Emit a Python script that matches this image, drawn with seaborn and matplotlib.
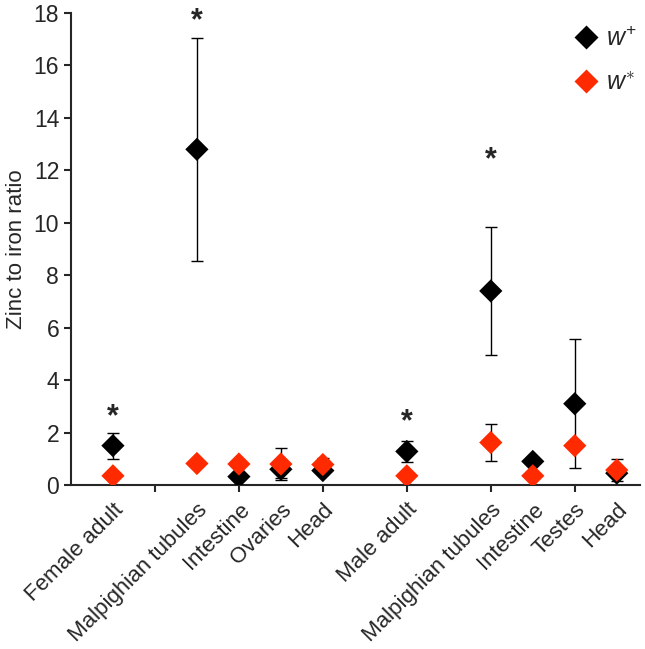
import matplotlib
matplotlib.use("Agg")
import matplotlib.pyplot as plt
import matplotlib.transforms as mtransforms
import seaborn as sns
import numpy as np
import pandas as pd

# Categories (x slots on the axis, gaps are left empty as in the original)
tissues = ["Female adult", "Malpighian tubules", "Intestine", "Ovaries", "Head",
           "Male adult", "Malpighian tubules", "Intestine", "Testes", "Head"]
slots = [1, 3, 4, 5, 6, 8, 10, 11, 12, 13]

# w+ (black)
wplus = [1.5, 12.8, 0.32, 0.6, 0.55, 1.28, 7.4, 0.9, 3.1, 0.45]
wplus_err = [0.5, 4.25, 0.0, 0.35, 0.0, 0.4, 2.45, 0.0, 2.45, 0.0]

# w* (red)
wstar = [0.35, 0.82, 0.8, 0.8, 0.78, 0.35, 1.62, 0.35, 1.5, 0.57]
wstar_err = [0.0, 0.0, 0.0, 0.6, 0.25, 0.0, 0.72, 0.0, 0.0, 0.42]

# significance stars: slot index and height
star_idx = [0, 1, 5, 6]
star_y = [2.6, 17.7, 2.4, 12.4]

sns.set_style("ticks")
plt.rcParams["font.family"] = ["Liberation Sans", "DejaVu Sans"]
plt.rcParams["mathtext.fontset"] = "custom"
plt.rcParams["mathtext.rm"] = "Liberation Sans"
plt.rcParams["mathtext.it"] = "Liberation Sans:italic"

df = pd.DataFrame({
    "slot": slots * 2,
    "ratio": wplus + wstar,
    "err": wplus_err + wstar_err,
    "genotype": [r"$w^{+}$"] * len(slots) + [r"$w^{\ast}$"] * len(slots),
})

fig = plt.figure(figsize=(6.45, 6.49), dpi=100)
ax = fig.add_axes([0.110, 0.2527, 0.882, 0.7273])

# error bars (drawn below the markers)
for g in df["genotype"].unique():
    sub = df[(df["genotype"] == g) & (df["err"] > 0)]
    ax.errorbar(sub["slot"], sub["ratio"], yerr=sub["err"], fmt="none",
                ecolor="black", elinewidth=1.0, capsize=4, capthick=1.0, zorder=1)

sns.scatterplot(data=df, x="slot", y="ratio", hue="genotype",
                palette=["black", "#ff2a00"], marker="D", s=140,
                edgecolor="none", ax=ax, zorder=3)

for i, yy in zip(star_idx, star_y):
    ax.text(slots[i], yy, "*", ha="center", va="center", fontsize=22,
            fontweight="bold")

ax.set_xlim(0, 13.55)
ax.set_ylim(0, 18)
ax.set_yticks(np.arange(0, 19, 2))
ax.set_xticks([2, 4, 6, 8, 10, 12])
ax.set_xticklabels([])
ax.set_xlabel("")
ax.set_ylabel("Zinc to iron ratio", fontsize=16, labelpad=5)
ax.tick_params(axis="y", labelsize=16.5, length=5, width=1.5)
ax.tick_params(axis="x", length=5, width=1.5)
for s in ["left", "bottom"]:
    ax.spines[s].set_linewidth(1.5)
sns.despine(ax=ax)

trans = mtransforms.blended_transform_factory(ax.transData, ax.transAxes)
for x, lab in zip(slots, tissues):
    ax.text(x, -0.03, lab, transform=trans, rotation=45,
            ha="right", va="top", rotation_mode="anchor", fontsize=16)

leg = ax.legend(loc="upper right", bbox_to_anchor=(1.012, 0.992),
                frameon=False, fontsize=18, handlelength=0.6,
                handletextpad=0.5, labelspacing=0.8, borderaxespad=0.0)

fig.savefig("out.png", dpi=100)
